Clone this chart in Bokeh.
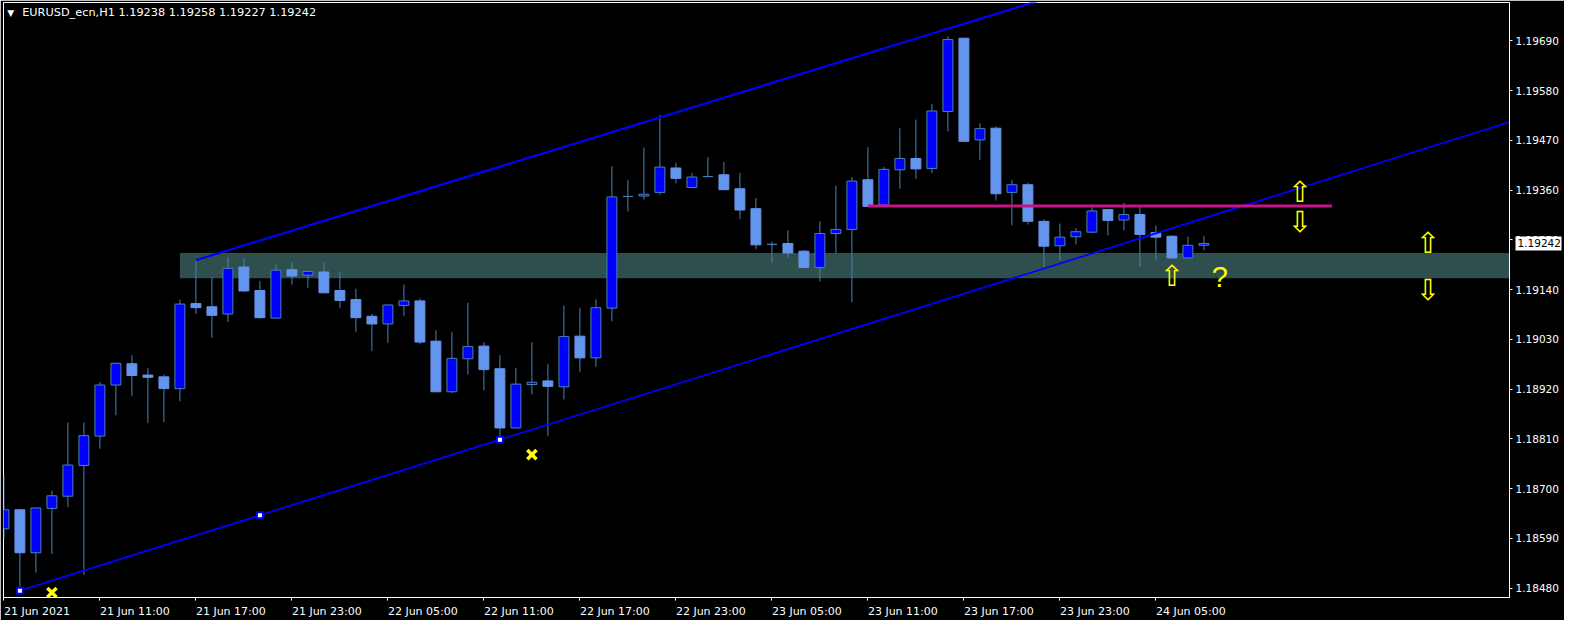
from bokeh.plotting import figure
from bokeh.models import (ColumnDataSource, FixedTicker, PrintfTickFormatter, Range1d, LinearAxis)
from bokeh.core.properties import value
from bokeh.embed import file_html
from bokeh.resources import INLINE

# ---------------- data ----------------
symbol_title = "EURUSD_ecn,H1"
last_ohlc = ["1.19238", "1.19258", "1.19227", "1.19242"]
last_price = 1.19242

# hourly bars, bar 0 = 21 Jun 2021 05:00
open_ = [1.18611, 1.18653, 1.18558, 1.18656, 1.18683, 1.18751, 1.18816, 1.18929, 1.18976, 1.18951,
         1.18947, 1.18921, 1.19109, 1.19102, 1.19086, 1.19190, 1.19138, 1.19077, 1.19184, 1.19172,
         1.19179, 1.19138, 1.19118, 1.19081, 1.19064, 1.19105, 1.19115, 1.19026, 1.18914, 1.18987,
         1.19015, 1.18965, 1.18834, 1.18930, 1.18938, 1.18925, 1.19037, 1.18989, 1.19099, 1.19346,
         1.19347, 1.19355, 1.19409, 1.19366, 1.19390, 1.19394, 1.19363, 1.19319, 1.19240, 1.19242,
         1.19225, 1.19189, 1.19264, 1.19273, 1.19383, 1.19327, 1.19405, 1.19430, 1.19408, 1.19534,
         1.19696, 1.19471, 1.19497, 1.19355, 1.19372, 1.19291, 1.19237, 1.19257, 1.19267, 1.19317,
         1.19294, 1.19306, 1.19266, 1.19258, 1.19210, 1.19238]
high = [1.18730, 1.18655, 1.18658, 1.18695, 1.18846, 1.18846, 1.18936, 1.18977, 1.18995, 1.18967,
        1.18952, 1.19118, 1.19205, 1.19168, 1.19212, 1.19210, 1.19159, 1.19195, 1.19201, 1.19181,
        1.19199, 1.19179, 1.19142, 1.19086, 1.19107, 1.19151, 1.19120, 1.19050, 1.19046, 1.19111,
        1.19024, 1.18995, 1.18967, 1.19024, 1.18976, 1.19105, 1.19100, 1.19118, 1.19413, 1.19383,
        1.19454, 1.19526, 1.19420, 1.19398, 1.19433, 1.19422, 1.19398, 1.19343, 1.19246, 1.19271,
        1.19227, 1.19291, 1.19370, 1.19389, 1.19455, 1.19411, 1.19497, 1.19516, 1.19551, 1.19700,
        1.19697, 1.19508, 1.19501, 1.19383, 1.19376, 1.19295, 1.19286, 1.19276, 1.19328, 1.19318,
        1.19332, 1.19324, 1.19282, 1.19260, 1.19257, 1.19258]
low = [1.18590, 1.18474, 1.18514, 1.18555, 1.18659, 1.18509, 1.18788, 1.18862, 1.18904, 1.18845,
       1.18847, 1.18893, 1.19086, 1.19033, 1.19068, 1.19135, 1.19076, 1.19077, 1.19151, 1.19144,
       1.19132, 1.19099, 1.19046, 1.19004, 1.19022, 1.19081, 1.19020, 1.18913, 1.18911, 1.18952,
       1.18917, 1.18810, 1.18833, 1.18908, 1.18816, 1.18897, 1.18958, 1.18969, 1.19070, 1.19313,
       1.19339, 1.19350, 1.19375, 1.19365, 1.19389, 1.19361, 1.19296, 1.19230, 1.19199, 1.19210,
       1.19188, 1.19158, 1.19220, 1.19112, 1.19323, 1.19322, 1.19363, 1.19385, 1.19398, 1.19490,
       1.19467, 1.19427, 1.19337, 1.19282, 1.19284, 1.19190, 1.19205, 1.19240, 1.19265, 1.19260,
       1.19271, 1.19190, 1.19205, 1.19208, 1.19209, 1.19227]
close = [1.18653, 1.18558, 1.18657, 1.18684, 1.18752, 1.18817, 1.18929, 1.18977, 1.18950, 1.18946,
         1.18921, 1.19108, 1.19100, 1.19083, 1.19187, 1.19137, 1.19078, 1.19183, 1.19170, 1.19180,
         1.19133, 1.19116, 1.19078, 1.19064, 1.19106, 1.19115, 1.19024, 1.18914, 1.18988, 1.19014,
         1.18963, 1.18834, 1.18931, 1.18935, 1.18926, 1.19036, 1.18989, 1.19100, 1.19345, 1.19346,
         1.19351, 1.19411, 1.19386, 1.19389, 1.19390, 1.19361, 1.19316, 1.19239, 1.19240, 1.19221,
         1.19189, 1.19264, 1.19273, 1.19380, 1.19324, 1.19406, 1.19430, 1.19407, 1.19535, 1.19693,
         1.19468, 1.19496, 1.19352, 1.19372, 1.19291, 1.19236, 1.19256, 1.19268, 1.19314, 1.19293,
         1.19306, 1.19262, 1.19256, 1.19210, 1.19238, 1.19242]

time_tick_bars = [0, 6, 12, 18, 24, 30, 36, 42, 48, 54, 60, 66, 72]
time_tick_labels = ["21 Jun 2021", "21 Jun 11:00", "21 Jun 17:00", "21 Jun 23:00",
                    "22 Jun 05:00", "22 Jun 11:00", "22 Jun 17:00", "22 Jun 23:00",
                    "23 Jun 05:00", "23 Jun 11:00", "23 Jun 17:00", "23 Jun 23:00",
                    "24 Jun 05:00"]
price_ticks = [1.18480, 1.18590, 1.18700, 1.18810, 1.18920, 1.19030,
               1.19140, 1.19250, 1.19360, 1.19470, 1.19580, 1.19690]

# objects drawn on the chart
lower_line_bars = [1, 31]
lower_line_prices = [1.18474, 1.18808]
lower_line_marks = [1, 16, 31]
upper_line_bars = [12, 41]
upper_line_prices = [1.19205, 1.19521]
line_end_bar = 110

zone_start_bar = 11
zone_end_bar = 110
zone_low = 1.19165
zone_high = 1.19221

level_bars = [54, 83]
level_price = 1.19325

up_arrow_bars = [73, 81, 89]
up_arrow_prices = [1.19171, 1.19355, 1.19242]
down_arrow_bars = [81, 89]
down_arrow_prices = [1.19290, 1.19139]
question_bars = [76]
question_prices = [1.19168]
cross_bars = [3, 33]
cross_prices = [1.18470, 1.18775]

# ---------------- layout ----------------
W, H = 1564, 620
BORDER_L, BORDER_T, BORDER_R, BORDER_B = 3, 2, 55, 17
FRAME_W = W - BORDER_L - BORDER_R
BAR_PX = 16.0            # horizontal pixels per hourly bar
BAR0_PX = 3.4            # pixel position of bar 0 centre
X0 = (BORDER_L - BAR0_PX) / BAR_PX
X1 = (BORDER_L + FRAME_W - BAR0_PX) / BAR_PX
Y0, Y1 = 1.18459, 1.19775

p = figure(width=W, height=H, x_range=Range1d(X0, X1), y_range=Range1d(Y0, Y1),
           y_axis_location="right", output_backend="svg", toolbar_location=None,
           min_border_left=BORDER_L, min_border_top=BORDER_T,
           min_border_right=BORDER_R, min_border_bottom=BORDER_B,
           background_fill_color="black", border_fill_color="black",
           outline_line_color="white", outline_line_width=1)
p.grid.visible = False

FONT = "DejaVu Sans"

# --- time axis: labels left-aligned at the ticks (label at its centre, tick as minor tick)
ADV = {" ": 0.318, "J": 0.295, "u": 0.634, "n": 0.634, ":": 0.337}
def text_width(s, size):
    return sum(ADV.get(ch, 0.636) for ch in s) * size

label_centres = [b + text_width(t, 11) / 2.0 / BAR_PX for b, t in zip(time_tick_bars, time_tick_labels)]
xa = p.xaxis[0]
xa.ticker = FixedTicker(ticks=label_centres, minor_ticks=time_tick_bars)
xa.major_label_overrides = {c: t for c, t in zip(label_centres, time_tick_labels)}
xa.axis_line_color = "white"
xa.major_tick_line_color = None
xa.major_tick_out = 0
xa.major_tick_in = 0
xa.minor_tick_line_color = "white"
xa.minor_tick_out = 3
xa.minor_tick_in = 0
xa.major_label_standoff = 4
xa.major_label_text_color = "white"
xa.major_label_text_font = FONT
xa.major_label_text_font_size = "11px"

# --- price axis
ya = p.yaxis[0]
ya.ticker = FixedTicker(ticks=price_ticks)
ya.formatter = PrintfTickFormatter(format="%.5f")
ya.axis_line_color = "white"
ya.major_tick_line_color = "white"
ya.major_tick_out = 3
ya.major_tick_in = 0
ya.minor_tick_out = 0
ya.minor_tick_in = 0
ya.major_label_text_color = "white"
ya.major_label_text_font = FONT
ya.major_label_text_font_size = "10.5px"
ya.major_label_standoff = 3

# current price marker: a wide white tick pointing back over the price labels, black label on it
box_axis = LinearAxis(ticker=FixedTicker(ticks=[last_price]),
                      formatter=PrintfTickFormatter(format="%.5f"),
                      axis_line_color=None,
                      major_tick_line_color="white", major_tick_line_width=14,
                      major_tick_out=0, major_tick_in=46, minor_tick_out=0, minor_tick_in=0,
                      major_label_text_color="black", major_label_text_font=FONT,
                      major_label_text_font_size="10.5px", major_label_standoff=-44)
p.add_layout(box_axis, "right")

# zone rectangle (background)
p.quad(left=[zone_start_bar], right=[zone_end_bar], bottom=[zone_low], top=[zone_high],
       fill_color="#2F4F4F", line_color=None)

# candles
bars = list(range(len(open_)))
src = ColumnDataSource(dict(x=bars, o=open_, h=high, l=low, c=close))
bull = [i for i in bars if close[i] >= open_[i]]
bear = [i for i in bars if close[i] < open_[i]]
bull_src = ColumnDataSource(dict(x=bull, top=[close[i] for i in bull], bottom=[open_[i] for i in bull]))
bear_src = ColumnDataSource(dict(x=bear, top=[open_[i] for i in bear], bottom=[close[i] for i in bear]))
p.segment(x0="x", y0="l", x1="x", y1="h", source=src, line_color="#4682B4", line_width=1)
p.vbar(x="x", width=0.62, top="top", bottom="bottom", source=bull_src,
       fill_color="#0000FF", line_color="#4682B4", line_width=1)
p.vbar(x="x", width=0.62, top="top", bottom="bottom", source=bear_src,
       fill_color="#6495ED", line_color="#6495ED", line_width=1)

# channel lines
def extend(bx, py, end):
    slope = (py[1] - py[0]) / (bx[1] - bx[0])
    return [bx[0], end], [py[0], py[0] + slope * (end - bx[0])], slope

lx, ly, lslope = extend(lower_line_bars, lower_line_prices, line_end_bar)
ux, uy, _ = extend(upper_line_bars, upper_line_prices, line_end_bar)
p.line(x=ux, y=uy, line_color="#0000FF", line_width=2.2)
p.line(x=lx, y=ly, line_color="#0000FF", line_width=1.8)
p.scatter(x=lower_line_marks,
          y=[lower_line_prices[0] + lslope * (b - lower_line_bars[0]) for b in lower_line_marks],
          marker="square", size=6, fill_color="white", line_color="#0000FF", line_width=2)

# horizontal level
p.line(x=level_bars, y=[level_price] * len(level_bars), line_color="#C71585", line_width=3)

# arrows, question mark, crosses
p.text(x=up_arrow_bars, y=up_arrow_prices, text=["\u21e7"] * len(up_arrow_bars),
       text_color="#FFFF00", text_font=value(FONT), text_font_size="29px",
       text_align="center", text_baseline="middle")
p.text(x=down_arrow_bars, y=down_arrow_prices, text=["\u21e9"] * len(down_arrow_bars),
       text_color="#FFFF00", text_font=value(FONT), text_font_size="29px",
       text_align="center", text_baseline="middle")
p.text(x=question_bars, y=question_prices, text=["?"] * len(question_bars),
       text_color="#FFFF00", text_font=value("Liberation Sans"), text_font_size="29px",
       text_align="center", text_baseline="middle")
p.scatter(x=cross_bars, y=cross_prices, marker="x", size=13, line_color="#FFFF00", line_width=3.5)

# chart caption at the top-left, inside the frame
title_price = 1.19752
p.text(x=[(6.7 - BAR0_PX) / BAR_PX], y=[title_price], text=["\u25bc"], text_color="white",
       text_font=value(FONT), text_font_size="9px", text_align="left", text_baseline="middle")
p.text(x=[(21.7 - BAR0_PX) / BAR_PX], y=[title_price],
       text=[symbol_title + "  " + " ".join(last_ohlc)], text_color="white",
       text_font=value(FONT), text_font_size="11.3px", text_align="left", text_baseline="middle")

open("out.html", "w").write(file_html(p, INLINE))
